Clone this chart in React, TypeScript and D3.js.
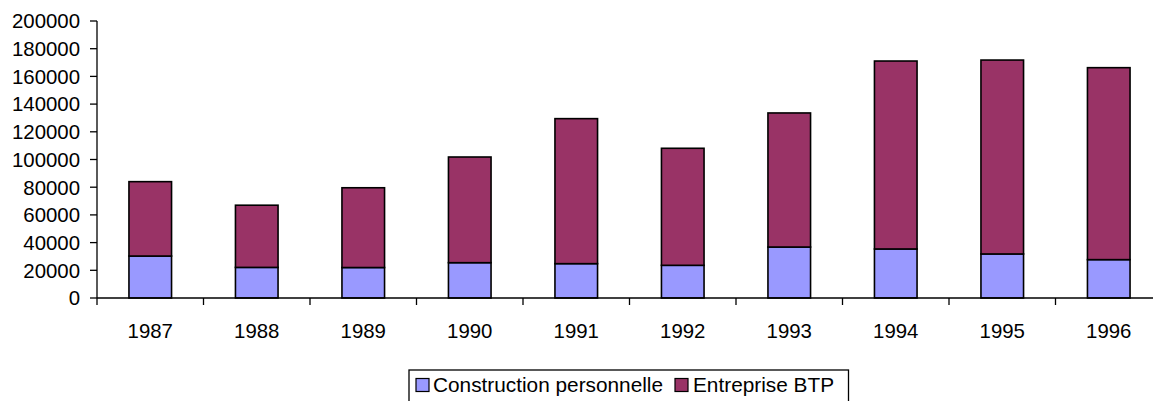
import React from "react";
import * as d3 from "d3";

const years = ["1987", "1988", "1989", "1990", "1991", "1992", "1993", "1994", "1995", "1996"];
const constructionPersonnelle = [30300, 22100, 22000, 25500, 24800, 23600, 36800, 35400, 31800, 27700];
const entrepriseBTP = [53700, 44900, 57600, 76300, 104700, 84500, 96800, 135700, 140000, 138600];
const yTicks = [0, 20000, 40000, 60000, 80000, 100000, 120000, 140000, 160000, 180000, 200000];
const seriesNames = ["Construction personnelle", "Entreprise BTP"];
const seriesColors = ["#9999FF", "#993366"];

const W = 1153;
const H = 401;
const FONT = "'Liberation Sans', Arial, sans-serif";

export default function App() {
  const x = d3.scaleBand<string>().domain(years).range([97, 1162]).paddingInner(0.6).paddingOuter(0.3);
  const y = d3.scaleLinear().domain([0, 200000]).range([298, 21]);
  const step = x.step();

  const stacked = years.map((yr, i) => ({
    yr,
    segs: [
      { y0: 0, y1: constructionPersonnelle[i], c: seriesColors[0] },
      { y0: constructionPersonnelle[i], y1: constructionPersonnelle[i] + entrepriseBTP[i], c: seriesColors[1] },
    ],
  }));

  return (
    <svg width={W} height={H} style={{ position: "absolute", left: 0, top: 0, background: "#fff" }} fontFamily={FONT}>
      <rect x={0} y={0} width={W} height={H} fill="#fff" />
      {stacked.map((d) =>
        d.segs.map((s, j) => (
          <rect
            key={d.yr + j}
            x={x(d.yr)!}
            y={y(s.y1)}
            width={x.bandwidth()}
            height={y(s.y0) - y(s.y1)}
            fill={s.c}
            stroke="#000"
            strokeWidth={1.6}
          />
        ))
      )}
      {/* y axis */}
      <line x1={97} x2={97} y1={y(200000)} y2={y(0)} stroke="#000" strokeWidth={1.3} />
      {yTicks.map((t) => (
        <g key={t}>
          <line x1={90} x2={97} y1={y(t)} y2={y(t)} stroke="#000" strokeWidth={1.3} />
          <text x={80} y={y(t)} dy="0.36em" textAnchor="end" fontSize={20.4} fill="#000">
            {t}
          </text>
        </g>
      ))}
      {/* x axis */}
      <line x1={97} x2={1162} y1={y(0)} y2={y(0)} stroke="#000" strokeWidth={1.3} />
      {d3.range(years.length + 1).map((i) => (
        <line key={i} x1={97 + i * step} x2={97 + i * step} y1={y(0)} y2={y(0) + 7} stroke="#000" strokeWidth={1.3} />
      ))}
      {years.map((yr) => (
        <text key={yr} x={x(yr)! + x.bandwidth() / 2} y={337.5} textAnchor="middle" fontSize={20.4} fill="#000">
          {yr}
        </text>
      ))}
      {/* legend */}
      <rect x={409} y={370} width={439.5} height={45} fill="#fff" stroke="#000" strokeWidth={1.3} />
      <rect x={416} y={378.5} width={13} height={13} fill={seriesColors[0]} stroke="#000" strokeWidth={1.2} />
      <text x={433} y={392} fontSize={20.8} fill="#000">{seriesNames[0]}</text>
      <rect x={675} y={378.5} width={13} height={13} fill={seriesColors[1]} stroke="#000" strokeWidth={1.2} />
      <text x={693} y={392} fontSize={20.8} fill="#000">{seriesNames[1]}</text>
    </svg>
  );
}
